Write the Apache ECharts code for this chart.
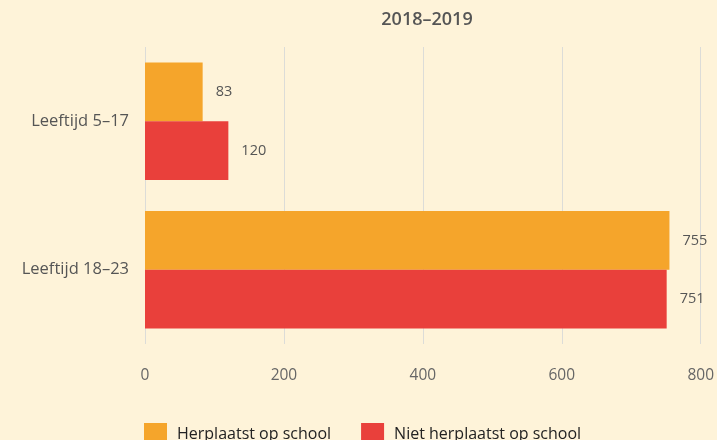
<!DOCTYPE html>
<html>
<head>
<meta charset="utf-8">
<script src="https://cdn.jsdelivr.net/npm/echarts@6/dist/echarts.min.js"></script>
<style>
  html, body { margin: 0; padding: 0; background: #fef3d9; }
  #main { width: 717px; height: 440px; }
</style>
</head>
<body>
<div id="main"></div>
<script>
var categories = ['Leeftijd 5–17', 'Leeftijd 18–23']
var herplaatst = [83, 755]
var nietHerplaatst = [120, 751]
var xTicks = [0, 200, 400, 600, 800]

var myChart = echarts.init(document.getElementById('main'))
var font = '"Open Sans", sans-serif'
var option = {
  backgroundColor: '#fef3d9',
  animation: false,
  title: {
    text: '2018–2019',
    left: 422,
    top: 6,
    textAlign: 'center',
    textStyle: { color: '#555', fontSize: 18, fontWeight: 600, fontFamily: font }
  },
  legend: {
    data: ['Herplaatst op school', 'Niet herplaatst op school'],
    left: 139,
    top: 418,
    itemWidth: 23,
    itemHeight: 23,
    itemGap: 30,
    icon: 'rect',
    textStyle: { color: '#222', fontSize: 16, fontFamily: font, padding: [0, 0, 0, 5] }
  },
  grid: { left: 145, right: 14, top: 47, bottom: 96, containLabel: false },
  xAxis: {
    type: 'value',
    min: xTicks[0],
    max: xTicks[xTicks.length - 1],
    interval: 200,
    axisLine: { show: false },
    axisTick: { show: false },
    axisLabel: { color: '#666', fontSize: 15.5, margin: 24, fontFamily: font },
    splitLine: { lineStyle: { color: '#dcdcd8', width: 1 } }
  },
  yAxis: {
    type: 'category',
    data: categories,
    inverse: true,
    axisLine: { show: false },
    axisTick: { show: false },
    axisLabel: { color: '#555', fontSize: 16.5, margin: 16, fontFamily: font }
  },
  series: [
    {
      name: 'Herplaatst op school',
      type: 'bar',
      data: herplaatst,
      barGap: '0%',
      barCategoryGap: '21%',
      itemStyle: { color: '#f5a52b' },
      label: { show: true, position: 'right', distance: 13, color: '#555', fontSize: 14.5, fontFamily: font }
    },
    {
      name: 'Niet herplaatst op school',
      type: 'bar',
      data: nietHerplaatst,
      barGap: '0%',
      barCategoryGap: '21%',
      itemStyle: { color: '#e9403b' },
      label: { show: true, position: 'right', distance: 13, color: '#555', fontSize: 14.5, fontFamily: font }
    }
  ]
}
myChart.setOption(option)
</script>
</body>
</html>
